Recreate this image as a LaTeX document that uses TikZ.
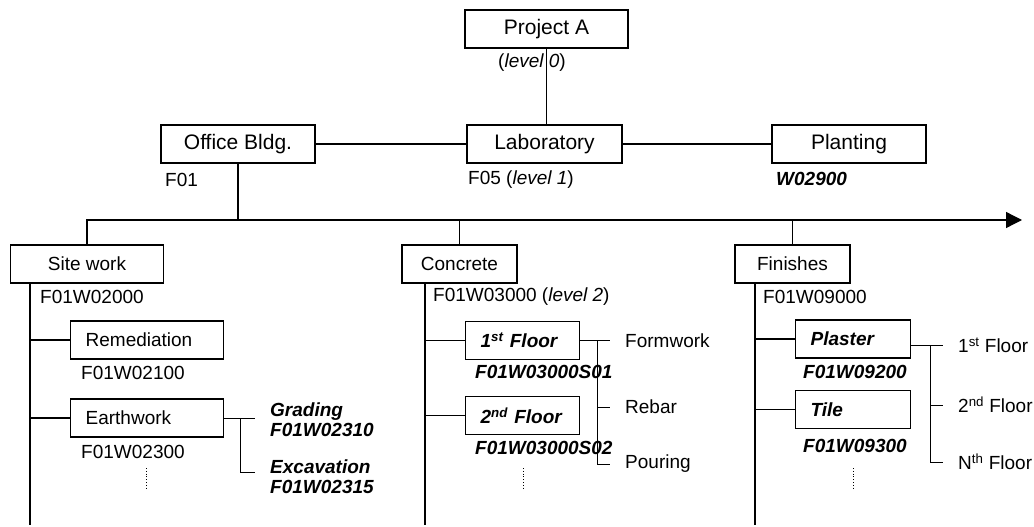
\documentclass[tikz,border=0pt]{standalone}
\usepackage{fontspec}
\setmainfont{Liberation Sans}
\usetikzlibrary{arrows.meta}

\newcommand{\bigtxt}{\fontsize{21}{24}\selectfont}
\newcommand{\smltxt}{\fontsize{19}{20}\selectfont}

\begin{document}
\begin{tikzpicture}[
    x=1pt, y=-1pt,
    topbox/.style={rectangle, draw, line width=1.3pt, minimum width=#1, minimum height=38pt, font=\bigtxt},
    midbox/.style={rectangle, draw, line width=1.3pt, minimum width=#1, minimum height=38pt, font=\smltxt},
    subbox/.style={rectangle, draw, line width=1.3pt, text width=#1, minimum height=38pt, inner xsep=15pt, align=left, anchor=west, font=\smltxt},
    code/.style={anchor=west, inner sep=0pt, font=\smltxt},
    bcode/.style={code, font=\smltxt\bfseries\itshape},
    leaf/.style={anchor=west, inner xsep=15pt, inner ysep=0pt, align=left, font=\smltxt},
    link/.style={line width=1.3pt},
    brk/.style={line width=1pt},
    dots/.style={dotted, line width=0.8pt}
]
\useasboundingbox (0,0) rectangle (1034,527);

% Level 0
\node[topbox=163pt, line width=2pt] (projA) at (546.5,29.5) {Project A};
\node[code] (projCode) at (498,63) {(\textit{level 0})};

% Level 1
\node[topbox=154pt] (office) at (238,144) {Office Bldg.};
\node[topbox=155pt] (lab) at (544.5,144) {Laboratory};
\node[topbox=154pt] (plant) at (849,144) {Planting};
\node[code] (officeCode) at (165,180) {F01};
\node[code] (labCode) at (468,180) {F05 (\textit{level 1})};
\node[bcode] (plantCode) at (776,179) {W02900};

\draw[link] (projA.south) -- (projA.south |- lab.north);
\draw[link] (office) -- (lab);
\draw[link] (lab) -- (plant);

% Level 2
\node[midbox=153pt] (site) at (87,264) {Site work};
\node[midbox=115pt] (conc) at (459.5,264) {Concrete};
\node[midbox=115pt] (fin) at (792.5,264) {Finishes};
\node[code] (siteCode) at (40,297) {F01W02000};
\node[code] (concCode) at (433,297) {F01W03000 (\textit{level 2})};
\node[code] (finCode) at (763,297) {F01W09000};

\coordinate (busR) at (1022,220);
\draw[link] (office.south) -- (office.south |- busR);
\draw[link, -{Triangle[length=16pt, width=16pt]}] (site.north) |- (busR);
\draw[link] (conc.north) -- (conc.north |- busR);
\draw[link] (fin.north) -- (fin.north |- busR);

% Level 3
\node[subbox=123pt] (rem) at (70,340) {Remediation};
\node[subbox=123pt] (earth) at (70,418) {Earthwork};
\node[subbox=84pt, font=\smltxt\bfseries\itshape] (floor1) at (465,340.5) {1\textsuperscript{st} Floor};
\node[subbox=84pt, font=\smltxt\bfseries\itshape] (floor2) at (465,415.5) {2\textsuperscript{nd} Floor};
\node[subbox=85pt, font=\smltxt\bfseries\itshape] (plaster) at (795,339) {Plaster};
\node[subbox=85pt, font=\smltxt\bfseries\itshape] (tile) at (795,409.5) {Tile};
\node[code] (remCode) at (81,373) {F01W02100};
\node[code] (earthCode) at (81,452) {F01W02300};
\node[bcode] (floor1Code) at (475,372) {F01W03000S01};
\node[bcode] (floor2Code) at (475,448) {F01W03000S02};
\node[bcode] (plasterCode) at (803,372) {F01W09200};
\node[bcode] (tileCode) at (803,446) {F01W09300};

\coordinate (siteSp) at (30,525);
\coordinate (concSp) at (425,525);
\coordinate (finSp) at (755,525);
\draw[link] (siteSp |- site.south) -- (siteSp);
\draw[link] (siteSp |- rem.west) -- (rem.west);
\draw[link] (siteSp |- earth.west) -- (earth.west);
\draw[link] (concSp |- conc.south) -- (concSp);
\draw[link] (concSp |- floor1.west) -- (floor1.west);
\draw[link] (concSp |- floor2.west) -- (floor2.west);
\draw[link] (finSp |- fin.south) -- (finSp);
\draw[link] (finSp |- plaster.west) -- (plaster.west);
\draw[link] (finSp |- tile.west) -- (tile.west);

\draw[dots] (146,468) -- (146,490);
\draw[dots] (523,468) -- (523,488);
\draw[dots] (853,468) -- (853,488);

% Level 4
\node[leaf, font=\smltxt\bfseries\itshape] (grad) at (255,420) {Grading\\F01W02310};
\node[leaf, font=\smltxt\bfseries\itshape] (exc) at (255,477) {Excavation\\F01W02315};
\node[leaf] (formw) at (610,340.5) {Formwork};
\node[leaf] (rebar) at (610,407) {Rebar};
\node[leaf] (pour) at (610,464) {Pouring};
\node[leaf] (fl1) at (943,345) {1\textsuperscript{st} Floor};
\node[leaf] (fl2) at (943,405) {2\textsuperscript{nd} Floor};
\node[leaf] (flN) at (943,462) {N\textsuperscript{th} Floor};

\coordinate (earthBr) at (240,472);
\draw[brk] (earth.east) -- (earth.east -| grad.west);
\draw[brk] (earth.east -| earthBr) |- (earthBr -| exc.west);

\coordinate (concBr) at (597,0);
\draw[brk] (floor1.east) -- (formw.west);
\draw[brk] (concBr |- formw.west) |- (pour.west);
\draw[brk] (concBr |- rebar.west) -- (rebar.west);

\coordinate (plasBr) at (930,0);
\draw[brk] (plaster.east |- fl1.west) -- (fl1.west);
\draw[brk] (plasBr |- fl1.west) |- (flN.west);
\draw[brk] (plasBr |- fl2.west) -- (fl2.west);
\end{tikzpicture}
\end{document}
